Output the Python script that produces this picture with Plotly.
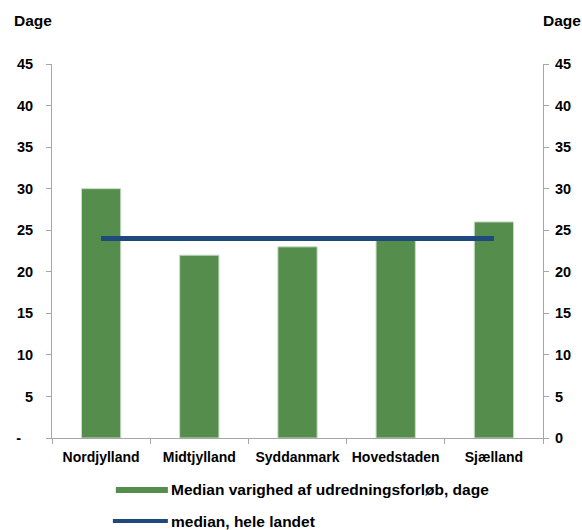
import plotly.graph_objects as go

categories = ["Nordjylland", "Midtjylland", "Syddanmark", "Hovedstaden", "Sjælland"]
median_region = [30, 22, 23, 24, 26]
median_national = [24, 24, 24, 24, 24]
tick_vals = [0, 5, 10, 15, 20, 25, 30, 35, 40, 45]
left_tick_text = ["-\u00a0\u00a0\u00a0", "5", "10", "15", "20", "25", "30", "35", "40", "45"]
right_tick_text = ["0", "5", "10", "15", "20", "25", "30", "35", "40", "45"]
bar_name = "Median varighed af udredningsforløb, dage"
line_name = "median, hele landet"

GREEN = "#558D4C"
BLUE = "#1F497D"
FONT = "Liberation Sans, Arial, sans-serif"

fig = go.Figure()
fig.add_trace(go.Bar(x=categories, y=median_region, marker=dict(color=GREEN, line=dict(color="#C9DCC5", width=1)),
                     width=0.4, showlegend=False, name=bar_name))
fig.add_trace(go.Scatter(x=categories, y=median_national, mode="lines", line=dict(color=BLUE, width=5),
                         showlegend=False, name=line_name))
fig.add_trace(go.Scatter(x=categories, y=median_national, yaxis="y2", mode="lines",
                         line=dict(color="rgba(0,0,0,0)"), showlegend=False, hoverinfo="skip"))

axis_common = dict(range=[0, 45], tickvals=tick_vals, showgrid=False, zeroline=False, showline=True,
                   linecolor="#A6A6A6", linewidth=1, ticks="outside", ticklen=5, tickcolor="#A6A6A6",
                   automargin=False,
                   tickfont=dict(family=FONT, size=14.5, color="black", weight="bold"))

fig.update_layout(
    width=582, height=530,
    margin=dict(l=52, r=39, t=64, b=92, autoexpand=False),
    plot_bgcolor="white", paper_bgcolor="white",
    xaxis=dict(showgrid=False, showline=True, linecolor="#A6A6A6", ticks="outside", tickson="boundaries",
               ticklen=5, tickcolor="#A6A6A6", automargin=False, tickangle=0, ticklabelstandoff=6,
               tickfont=dict(family=FONT, size=14, color="black", weight="bold")),
    yaxis=dict(ticktext=left_tick_text, ticklabelstandoff=10, **axis_common),
    yaxis2=dict(ticktext=right_tick_text, overlaying="y", side="right", ticklabelstandoff=3, **axis_common),
    showlegend=False,
    annotations=[
        dict(text="<b>Dage</b>", xref="paper", yref="paper", x=-0.039, y=1.115, xanchor="center", yanchor="middle",
             showarrow=False, font=dict(family=FONT, size=15.5, color="black")),
        dict(text="<b>Dage</b>", xref="paper", yref="paper", x=1.038, y=1.115, xanchor="center", yanchor="middle",
             showarrow=False, font=dict(family=FONT, size=15.5, color="black")),
        dict(text="<b>" + bar_name + "</b>", xref="paper", yref="paper", x=0.238, y=-0.139, xanchor="left",
             yanchor="middle", showarrow=False, font=dict(family=FONT, size=15.5, color="black")),
        dict(text="<b>" + line_name + "</b>", xref="paper", yref="paper", x=0.238, y=-0.222, xanchor="left",
             yanchor="middle", showarrow=False, font=dict(family=FONT, size=15.5, color="black")),
    ],
    shapes=[
        dict(type="line", xref="paper", yref="paper", x0=0.130, x1=0.236, y0=-0.139, y1=-0.139,
             line=dict(color=GREEN, width=6)),
        dict(type="line", xref="paper", yref="paper", x0=0.124, x1=0.236, y0=-0.222, y1=-0.222,
             line=dict(color=BLUE, width=4)),
    ],
)

fig.write_html("out.html", config={"displayModeBar": False},
               post_script="document.body.style.margin='0';document.body.style.overflow='hidden';")
